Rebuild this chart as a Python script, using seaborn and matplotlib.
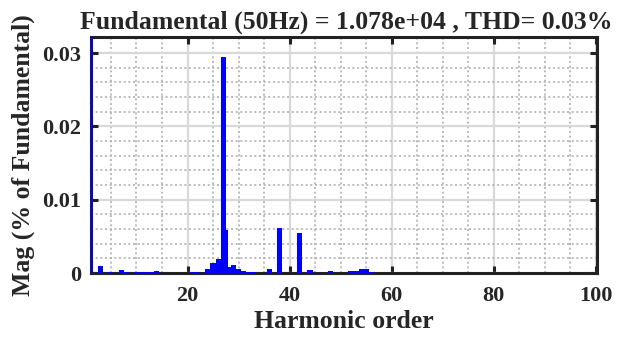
import numpy as np
import pandas as pd
import matplotlib
matplotlib.use("Agg")
import matplotlib.pyplot as plt
from matplotlib.ticker import MultipleLocator, FuncFormatter
import seaborn as sns

# Harmonic spectrum (% of fundamental)
orders = [1, 3, 5, 7, 8, 10, 11, 12, 13, 14, 18, 21, 22, 24, 25, 26, 27, 28, 29, 30,
          31, 32, 33, 36, 38, 42, 44, 48, 52, 53, 54, 55, 56, 57, 75, 79, 81]
mags = [100.0, 0.0010, 0.0002, 0.0004, 0.0001, 0.0001, 0.0001, 0.00012, 0.00015, 0.0003,
        0.00005, 0.0002, 0.0002, 0.0006, 0.0014, 0.0019, 0.0295, 0.0008, 0.0011, 0.0006,
        0.0003, 0.0001, 0.0001, 0.0006, 0.0062, 0.0054, 0.00045, 0.00025, 0.0003, 0.0003,
        0.0006, 0.0006, 0.0002, 0.00005, 0.00003, 0.00003, 0.00003]
shoulder_order = [27.7]
shoulder_mag = [0.0058]

xticks = [20, 40, 60, 80, 100]
yticks = [0, 0.01, 0.02, 0.03]
title = "Fundamental (50Hz) = 1.078e+04 , THD= 0.03%"
xlabel = "Harmonic order"
ylabel = "Mag (% of Fundamental)"

df = pd.DataFrame({"order": orders, "mag": mags})
df2 = pd.DataFrame({"order": shoulder_order, "mag": shoulder_mag})

sns.set_theme(style="white")
plt.rcParams["font.family"] = ["Liberation Serif", "DejaVu Serif"]
plt.rcParams["font.weight"] = "bold"

fig = plt.figure(figsize=(6.22, 3.41), dpi=100)
ax = fig.add_axes([0.1463, 0.1994, 0.8135, 0.6921])

sns.histplot(data=df, x="order", weights="mag", discrete=True, shrink=1.0,
             color="#0000ff", alpha=1.0, edgecolor="none", linewidth=0, ax=ax, zorder=3)
sns.histplot(data=df2, x="order", weights="mag", binwidth=0.4, binrange=(27.5, 27.9),
             color="#0000ff", alpha=1.0, edgecolor="none", linewidth=0, ax=ax, zorder=3)

ax.set_xlim(1.1, 100.2)
ax.set_ylim(0, 0.0322)
ax.set_xticks(xticks)
ax.set_yticks(yticks)
ax.xaxis.set_minor_locator(MultipleLocator(5))
ax.yaxis.set_minor_locator(MultipleLocator(0.002))
ax.yaxis.set_major_formatter(FuncFormatter(lambda v, p: "0" if v == 0 else f"{v:g}"))

ax.grid(which="major", color="#d9d9d9", linewidth=1.6, linestyle="-", zorder=0)
ax.grid(which="minor", color="#b0b0b0", linewidth=1.2, linestyle=(0, (1.2, 1.6)), zorder=0)
ax.set_axisbelow(True)

ax.tick_params(which="major", direction="in", length=5, width=2.2, color="#222222",
               top=True, right=True, bottom=True, left=True, labelsize=16)
ax.tick_params(axis="x", which="major", pad=9)
ax.tick_params(axis="y", which="major", pad=7)
ax.tick_params(which="minor", length=0)
for lab in ax.get_xticklabels() + ax.get_yticklabels():
    lab.set_fontweight("bold")
for s in ax.spines.values():
    s.set_visible(True)
    s.set_color("#222222")
    s.set_linewidth(2.2)

ax.set_title(title, fontsize=18.5, fontweight="bold", pad=6, x=0.505)
ax.set_xlabel(xlabel, fontsize=18.5, fontweight="bold", labelpad=3)
ax.set_ylabel(ylabel, fontsize=18.5, fontweight="bold", labelpad=5)

fig.savefig("out.png", dpi=100)
